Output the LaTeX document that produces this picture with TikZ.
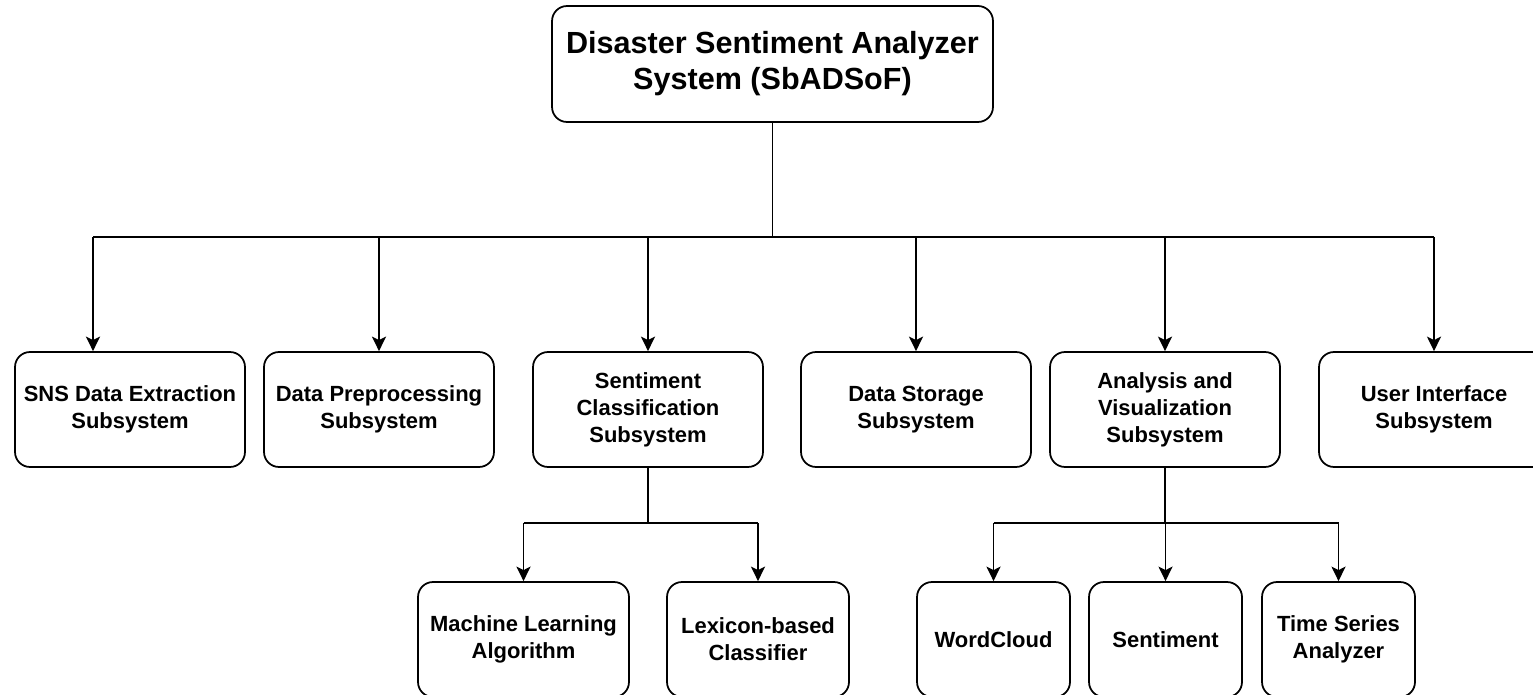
\documentclass[tikz,border=0pt]{standalone}
\usepackage{fontspec}
\setmainfont{Liberation Sans}
\usetikzlibrary{arrows.meta}

\begin{document}
\begin{tikzpicture}[x=0.02cm,y=-0.02cm]
\tikzset{box/.style = {shape=rectangle,draw,rounded corners=0.3cm,line width=1pt,inner sep=0pt,minimum width=4.6cm,minimum height=2.3cm,align=center,font=\bfseries\fontsize{12.5}{15.4}\selectfont}}
\tikzset{edge/.style = {-{Stealth[length=0.29cm,width=0.28cm,inset=0.07cm]},line width=1pt}}
\useasboundingbox (0,0) rectangle (1533,695);

% root
\node[box,minimum width=8.82cm,minimum height=2.32cm,font=\bfseries\fontsize{17.4}{20.5}\selectfont] (root) at (772.5,64) {Disaster Sentiment Analyzer\\System (SbADSoF)};

% subsystems
\node[box] (sns)   at (130,409.5)  {SNS Data Extraction\\Subsystem};
\node[box] (prep)  at (379,409.5)  {Data Preprocessing\\Subsystem};
\node[box] (cls)   at (648,409.5)  {Sentiment\\Classification\\Subsystem};
\node[box] (store) at (916,409.5)  {Data Storage\\Subsystem};
\node[box] (ana)   at (1165,409.5) {Analysis and\\Visualization\\Subsystem};
\node[box] (ui)    at (1434,409.5) {User Interface\\Subsystem};

% components
\node[box,minimum width=4.22cm] (ml)   at (523.5,639.5)  {Machine Learning\\Algorithm};
\node[box,minimum width=3.64cm] (lex)  at (758,639.5)    {Lexicon-based\\Classifier};
\node[box,minimum width=3.06cm] (wc)   at (993.5,639.5)  {WordCloud};
\node[box,minimum width=3.06cm] (sent) at (1165.5,639.5) {Sentiment};
\node[box,minimum width=3.06cm] (ts)   at (1338.5,639.5) {Time Series\\Analyzer};

% junctions
\coordinate (bus) at (772.5,237);
\coordinate (j1) at (93,237);
\coordinate (bus2) at (648,523);
\coordinate (bus3) at (1165,523);

% edges
\draw[line width=1pt] (root) -- (bus);
\draw[line width=1pt] (j1) -- (j1 -| ui);
\draw[edge] (j1) -- (j1 |- sns.north);
\draw[edge] (bus -| prep) -- (prep);
\draw[edge] (bus -| cls) -- (cls);
\draw[edge] (bus -| store) -- (store);
\draw[edge] (bus -| ana) -- (ana);
\draw[edge] (bus -| ui) -- (ui);

\draw[line width=1pt] (cls) -- (bus2);
\draw[line width=1pt] (bus2 -| ml) -- (bus2 -| lex);
\draw[edge] (bus2 -| ml) -- (ml);
\draw[edge] (bus2 -| lex) -- (lex);

\draw[line width=1pt] (ana) -- (bus3);
\draw[line width=1pt] (bus3 -| wc) -- (bus3 -| ts);
\draw[edge] (bus3 -| wc) -- (wc);
\draw[edge] (bus3 -| sent) -- (sent);
\draw[edge] (bus3 -| ts) -- (ts);
\end{tikzpicture}
\end{document}
